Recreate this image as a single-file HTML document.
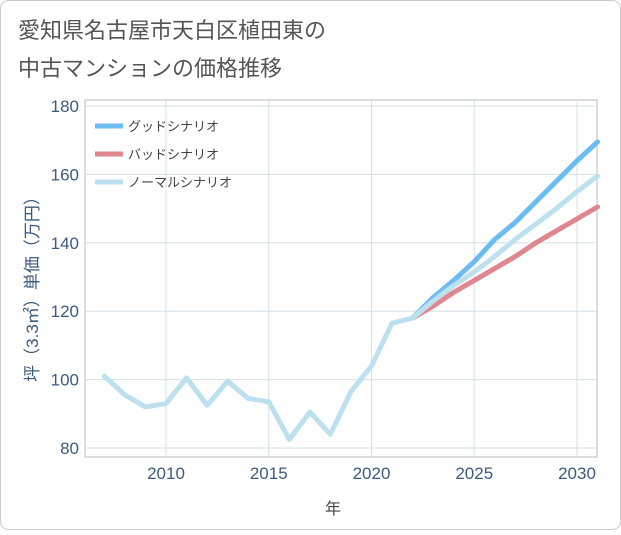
<!DOCTYPE html>
<html><head><meta charset="utf-8"><style>
body{margin:0;background:#fff;}
svg text{font-family:"Liberation Sans","Noto Sans CJK JP",sans-serif;}
</style></head><body>
<svg id="c" width="621" height="530" xmlns="http://www.w3.org/2000/svg">
<rect x="0.5" y="0.5" width="620" height="529" rx="8" fill="#fff" stroke="#ccc"/>
<text x="18" y="38" font-size="22" fill="#555">愛知県名古屋市天白区植田東の</text>
<text x="18" y="76" font-size="22" fill="#555">中古マンションの価格推移</text>
<rect x="85" y="100" width="512" height="357" fill="#fff" stroke="#bbb"/>
<g id="grid"></g>
<g id="lines"></g>
<g id="legend"></g>
<text x="333" y="514" font-size="16" fill="#444" text-anchor="middle">年</text>
<text transform="translate(38,285) rotate(-90)" font-size="17" fill="#3d5a80" text-anchor="middle">坪（3.3㎡）単価（万円）</text>
</svg>
<script>
const years=[2007,2008,2009,2010,2011,2012,2013,2014,2015,2016,2017,2018,2019,2020,2021,2022];
const history=[101,95.5,92,93,100.5,92.5,99.5,94.5,93.5,82.5,90.5,84,96.5,104,116.5,118];
const futureYears=[2022,2023,2024,2025,2026,2027,2028,2029,2030,2031];
const good=[118,124,129,134.5,141,146,152,158,164,169.5];
const bad=[118,121.5,125.5,129,132.5,136,140,143.5,147,150.5];
const normal=[118,123,127.5,131.5,136,141,145.5,150,155,159.5];
const xTicks=[2010,2015,2020,2025,2030];
const yTicks=[80,100,120,140,160,180];
const NS='http://www.w3.org/2000/svg';
const x=v=>166+(v-2010)*20.55;
const y=v=>448-(v-80)*3.42;
const grid=document.getElementById('grid'),lines=document.getElementById('lines'),leg=document.getElementById('legend');
function mk(tag,attrs,parent){const e=document.createElementNS(NS,tag);for(const k in attrs)e.setAttribute(k,attrs[k]);parent.appendChild(e);return e;}
xTicks.forEach(t=>{
 const l=mk('line',{x1:x(t),x2:x(t),y1:100,y2:457,stroke:'#d5e0ea'},grid);
 
 
 const tx=mk('text',{x:x(t),y:479,'font-size':17,fill:'#3d5a80','text-anchor':'middle'},grid);
 tx.textContent=t;
 
 
});
yTicks.forEach(t=>{
 const l=mk('line',{x1:85,x2:597,y1:y(t),y2:y(t),stroke:'#d5e0ea'},grid);
 
 
 const tx=mk('text',{x:79,y:y(t)+6,'font-size':17,fill:'#3d5a80','text-anchor':'end'},grid);
 tx.textContent=t;
 
 
});
function line(xs,vs,color,name){
 const p=mk('polyline',{points:xs.map((v,i)=>x(v)+','+y(vs[i])).join(' '),fill:'none',stroke:color,'stroke-width':5,'stroke-linejoin':'round','stroke-linecap':'round'},lines);
 
 
}
line(futureYears,bad,'#e0868e','bad-scenario-line');
line(futureYears,good,'#6bbcf2','good-scenario-line');
line(futureYears,normal,'#bde0ee','normal-scenario-line');
line(years,history,'#bde0ee','history-line');
const legItems=[['グッドシナリオ','#6bbcf2'],['バッドシナリオ','#e0868e'],['ノーマルシナリオ','#bde0ee']];
legItems.forEach((it,i)=>{
 const yy=126+i*28;
 const l=mk('line',{x1:95,x2:123,y1:yy,y2:yy,stroke:it[1],'stroke-width':5},leg);
 
 
 const t=mk('text',{x:128,y:yy+5,'font-size':13,fill:'#444'},leg);
 t.textContent=it[0];
 
 
});
</script>
</body></html>
